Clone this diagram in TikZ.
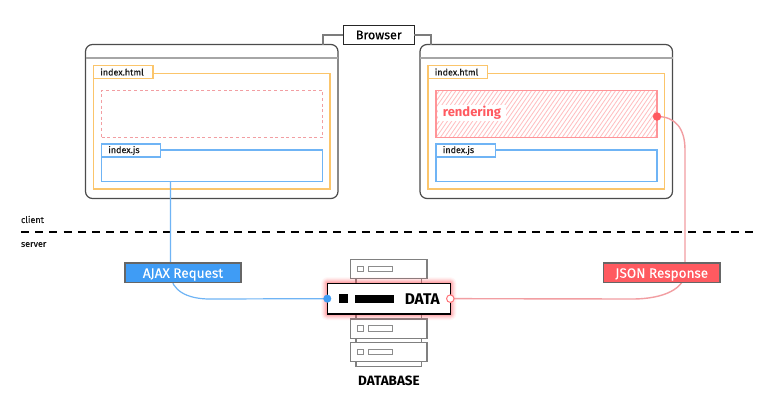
\documentclass[tikz,border=0pt]{standalone}
\usepackage{fontspec}
\setmainfont{Fira Sans}
\usetikzlibrary{calc}
\definecolor{cyel}{HTML}{FBC56B}
\definecolor{cblue}{HTML}{6FB4F5}
\definecolor{cfill}{HTML}{3F9CF5}
\definecolor{cred}{HTML}{FF5A60}
\definecolor{cpink}{HTML}{F29EA2}
\definecolor{cgray}{HTML}{7C7C7C}
\newcommand\labelfont{\fontsize{9}{10}\selectfont\addfontfeature{FakeBold=0.25}}
\tikzset{
  anybox/.style={inner sep=0pt,outer sep=0pt},
  window/.style={anybox,draw=black!70,line width=1.2pt,rounded corners=7pt},
  titlebar/.style={draw=black!35,line width=1.7pt},
  htmlbox/.style={anybox,draw=cyel,line width=1.4pt},
  htmltab/.style={anybox,draw=cyel,line width=1.4pt,fill=white},
  jsbox/.style={anybox,draw=cblue,line width=1.4pt},
  jstab/.style={anybox,draw=cblue,line width=1.4pt,fill=white},
  tabtext/.style={anybox,anchor=west,font=\labelfont,text=black!90},
  slot/.style={anybox,draw=cpink,line width=1.1pt,dash pattern=on 3pt off 2.6pt},
  hatched/.style={anybox,draw=cred!65,line width=1.3pt},
  hatchline/.style={draw=cred!40,line width=.8pt},
  browser/.style={anybox,draw=black!85,line width=1.2pt,fill=white,font=\fontsize{12.5}{14}\selectfont\addfontfeature{FakeBold=0.5}},
  lead/.style={draw=cgray,line width=1.1pt},
  tag/.style={anybox,draw=black!60,line width=1.2pt,font=\fontsize{13.5}{14}\selectfont\addfontfeature{FakeBold=0.2},text=white,text height=10pt,text depth=0pt},
  serverbox/.style={anybox,draw=black!50,line width=1.1pt,fill=white},
  stub/.style={anybox,draw=black!50,line width=1.1pt,fill=white},
  led/.style={anybox,draw=black!45,line width=1pt},
  datab/.style={anybox,draw=black,line width=1.6pt,fill=white},
  ink/.style={anybox,fill=black},
  side/.style={anybox,font=\labelfont,text=black!90,anchor=west},
  bluewire/.style={draw=cblue,line width=1.2pt},
  redwire/.style={draw=cpink,line width=1.4pt},
  sectionline/.style={draw=black,line width=2pt,dash pattern=on 8pt off 6.2pt},
}
\newcommand\bx[7]{%
  \pgfmathsetmacro\bxw{#5-#3}\pgfmathsetmacro\bxh{#6-#4}%
  \pgfmathsetmacro\bxcx{(#5+#3)/2}\pgfmathsetmacro\bxcy{(#6+#4)/2}%
  \node[#2,minimum width=\bxw pt,minimum height=\bxh pt] (#1) at (\bxcx,\bxcy) {#7};}
\begin{document}
\begin{tikzpicture}[x=1pt,y=-1pt]
\useasboundingbox (0,0) rectangle (778,413);
\fill[white] (0,0) rectangle (778,413);

% section line
\coordinate (sl) at (21,231.5); \coordinate (sr) at (755,231.5);
\draw[sectionline] (sl) -- (sr);
\node[side] (client) at (21,219.5) {client};
\node[side] (server) at (21,244.5) {server};

% left window
\bx{w1}{window}{85.5}{44.5}{338}{198.5}{}
\coordinate (w1la) at (85.5,57.7); \coordinate (w1lb) at (338,57.7);
\draw[titlebar] (w1la) -- (w1lb);
\bx{h1}{htmlbox}{93.5}{73.7}{330}{189}{}
\bx{ht1}{htmltab}{93.5}{65.5}{153}{78.5}{}
\node[tabtext] (ht1t) at ($(ht1.west)+(6.8,0)$) {index.html};
\bx{d1}{slot}{101.5}{90.5}{322.5}{137.5}{}
\bx{j1}{jsbox}{101.5}{150}{322.5}{181.5}{}
\bx{jt1}{jstab}{101.5}{144}{160.5}{157}{}
\node[tabtext] (jt1t) at ($(jt1.west)+(6.8,0)$) {index.js};

% right window
\bx{w2}{window}{420}{44.5}{672.5}{198.5}{}
\coordinate (w2la) at (420,57.7); \coordinate (w2lb) at (672.5,57.7);
\draw[titlebar] (w2la) -- (w2lb);
\bx{h2}{htmlbox}{428}{73.7}{664.5}{189}{}
\bx{ht2}{htmltab}{428}{65.5}{487.5}{78.5}{}
\node[tabtext] (ht2t) at ($(ht2.west)+(6.8,0)$) {index.html};
\begin{scope}
  \clip (436,90.5) rectangle (657,137.5);
  \foreach \i in {0,...,62}{
    \draw[hatchline] ({405+\i*4.2},140) -- ({405+\i*4.2+36},88);
  }
\end{scope}
\bx{r2}{hatched}{436}{90.5}{657}{137.5}{}
\bx{rl}{anybox,fill=white,text=cred,font=\fontsize{13}{14}\selectfont\bfseries}{438}{105}{506}{121}{rendering\hspace{3pt}}
\bx{j2}{jsbox}{436}{150}{657}{181.5}{}
\bx{jt2}{jstab}{436}{144}{495.5}{157}{}
\node[tabtext] (jt2t) at ($(jt2.west)+(6.8,0)$) {index.js};

% browser
\coordinate (bl) at (323,44.5); \coordinate (brr) at (431,44.5);
\bx{br}{browser}{343.3}{25.7}{414.3}{44.3}{Browser}
\draw[lead] (br.west) -| (bl);
\draw[lead] (br.east) -| (brr);

% servers
\bx{s1}{stub}{356}{278}{421.7}{284}{}
\bx{s2}{stub}{356}{314}{421.7}{320}{}
\bx{s3}{stub}{356}{338}{421.7}{343}{}
\bx{s4}{stub}{356}{361.7}{421.7}{366.7}{}
\bx{a1}{serverbox}{350.7}{259.3}{427}{278.7}{}
\bx{a1x}{led}{357.5}{266}{363}{271.5}{}
\bx{a1y}{led}{368.3}{266}{392}{271.5}{}
\bx{a2}{serverbox}{350.7}{319}{427}{338.3}{}
\bx{a2x}{led}{357.5}{325.7}{363}{331.2}{}
\bx{a2y}{led}{368.3}{325.7}{392}{331.2}{}
\bx{a3}{serverbox}{350.7}{342.3}{427}{361.7}{}
\bx{a3x}{led}{357.5}{349}{363}{354.5}{}
\bx{a3y}{led}{368.3}{349}{392}{354.5}{}

% glow
\foreach \g/\o in {6/.06,5/.08,4/.1,3/.13,2/.17,1/.22}{
  \fill[cred,opacity=\o,rounded corners=\g pt] ({327.3-\g},{283.3-\g}) rectangle ({450.3+\g},{314+\g});
}
\bx{data}{datab}{327.3}{283.3}{450.3}{314}{}
\bx{dk}{ink}{339}{294}{348}{303}{}
\bx{db}{ink}{354.7}{294.5}{393.5}{303}{}
\node[anybox,font=\fontsize{15.5}{16}\selectfont\bfseries] (dt) at (422.3,298.8) {DATA};
\node[anybox,font=\fontsize{13.5}{15}\selectfont\bfseries] (dbt) at (389,381) {DATABASE};

% wires
\coordinate (bw) at (170.5,181.5);
\draw[bluewire] (bw) -- (170.5,275) .. controls (172,290) and (186,299) .. (210,299) -- (data.west);
\coordinate (rw) at (657,116.5);
\draw[redwire] (rw) .. controls (675,116.5) and (685,128) .. (685,150) -- (685,272) .. controls (685,288) and (665,299) .. (632,299) -- (data.east);

% tags
\bx{ajax}{tag,fill=cfill}{125}{263}{241}{282.5}{AJAX Request}
\bx{json}{tag,fill=cred}{603.5}{263}{720}{282.5}{JSON Response}

% dots
\node[circle,fill=cfill,draw=cfill,inner sep=0pt,minimum size=7.5pt] (dotb) at (data.west) {};
\node[circle,fill=white,draw=cred!85,line width=1pt,inner sep=0pt,minimum size=7.5pt] (dotr) at (data.east) {};
\node[circle,fill=cred,inner sep=0pt,minimum size=8.5pt] (dotq) at (rw) {};
\end{tikzpicture}
\end{document}
